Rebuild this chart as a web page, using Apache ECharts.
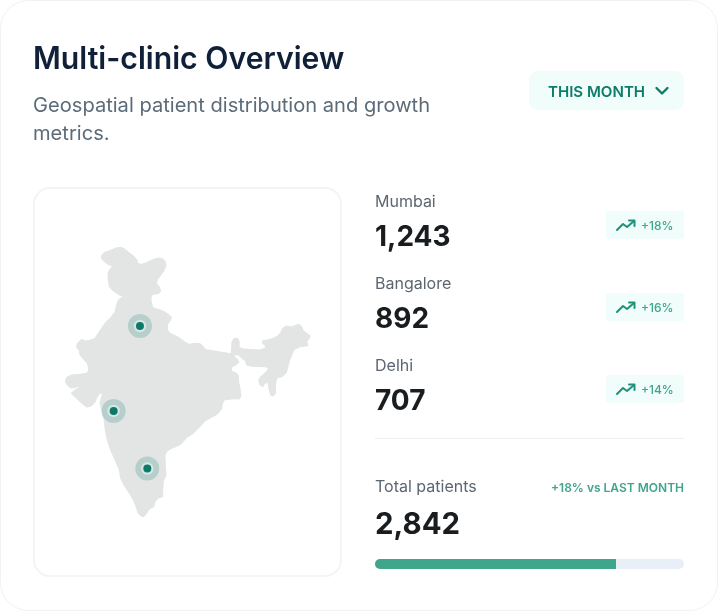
<!DOCTYPE html>
<html><head><meta charset="utf-8">
<style>html,body{margin:0;padding:0;background:#fff}#c{width:718px;height:611px}</style>
<script src="https://cdn.jsdelivr.net/npm/echarts@6/dist/echarts.min.js"></script>
</head><body><div id="c"></div>
<script>
const cityNames = ['Mumbai','Bangalore','Delhi'];
const cityPatients = [1243,892,707];
const cityGrowth = ['+18%','+16%','+14%'];
const cityMapPos = [[251,678],[352,851],[330,423]];
const totalPatients = 2842;
const totalLabel = '+18% vs LAST MONTH';
const progressPercent = [78];
const indiaOutline = [[214,212],[222,203],[240,197],[258,189],[275,187],[285,193],[297,203],[312,214],[320,224],[325,236],[335,238],[350,233],[368,224],[385,219],[398,221],[406,230],[408,242],[403,255],[393,270],[382,284],[380,296],[388,306],[392,318],[386,326],[372,327],[364,332],[363,345],[368,367],[380,372],[394,376],[406,382],[418,390],[425,398],[420,408],[412,420],[413,435],[420,445],[436,452],[452,461],[465,472],[478,478],[495,475],[510,476],[520,485],[527,494],[545,497],[570,501],[590,504],[604,507],[605,490],[606,472],[610,463],[618,459],[626,463],[628,475],[627,487],[640,492],[665,494],[690,495],[705,490],[708,483],[698,476],[697,468],[712,465],[728,461],[742,454],[752,443],[760,428],[770,423],[785,426],[797,421],[808,418],[815,425],[820,437],[830,445],[841,453],[836,463],[830,470],[834,482],[822,484],[808,486],[793,494],[785,510],[778,528],[773,550],[768,565],[755,576],[742,578],[738,590],[736,610],[737,625],[730,633],[722,630],[717,612],[714,592],[705,595],[698,605],[690,600],[686,585],[692,575],[705,565],[715,552],[712,546],[690,545],[665,544],[650,540],[647,528],[636,520],[625,510],[614,509],[612,515],[622,522],[627,532],[618,540],[605,546],[605,560],[618,563],[625,572],[626,590],[630,610],[633,635],[628,642],[605,642],[583,645],[578,655],[575,672],[562,688],[545,697],[525,708],[510,725],[490,745],[470,758],[458,772],[450,780],[425,790],[410,800],[405,812],[406,840],[408,870],[400,890],[398,915],[398,935],[385,940],[375,950],[372,965],[358,972],[350,985],[342,995],[332,993],[325,985],[318,965],[310,945],[298,925],[282,900],[272,880],[268,855],[255,825],[240,790],[232,765],[226,735],[222,700],[216,680],[210,655],[215,635],[218,625],[210,625],[202,635],[195,652],[183,664],[170,666],[155,655],[142,642],[130,632],[124,625],[132,617],[150,607],[155,603],[140,606],[125,610],[113,602],[106,590],[110,577],[125,570],[150,568],[170,565],[177,555],[172,535],[160,522],[150,510],[148,497],[140,488],[142,475],[155,463],[165,468],[180,466],[195,460],[208,440],[225,415],[243,397],[255,380],[260,360],[265,345],[280,334],[268,330],[250,318],[238,305],[235,285],[234,265],[240,252],[250,245],[238,240],[225,232],[216,222]];

const FONT = 'Inter, sans-serif';
const txt = (x,y,text,size,weight,fill,align,sx) => ({type:'text',silent:true,x,y,scaleX:sx||1,style:{text,font:`${weight} ${size}px ${FONT}`,fill,align:align||'left',verticalAlign:'middle'}});
const box = (x,y,w,h,r,fill,stroke,lw) => ({type:'rect',silent:true,shape:{x,y,width:w,height:h,r},style:{fill,stroke:stroke||null,lineWidth:lw||0}});
const line = (points,stroke,lw) => ({type:'polyline',silent:true,shape:{points},style:{stroke,lineWidth:lw,fill:null,lineCap:'round',lineJoin:'round'}});

const graphics = [
  box(0.5,0.5,717,610,28,'#fff','#f0f2f3',1),
  txt(33,59.5,'Multi-clinic Overview',31,600,'#0f2038','left',0.974),
  txt(33,106,'Geospatial patient distribution and growth',20,400,'#5c6b79','left',1.005),
  txt(33,134,'metrics.',20,400,'#5c6b79','left',1.005),
  box(529,71,155,39,9,'#f0fdfa'),
  txt(548,92,'THIS MONTH',15,600,'#0d7c69','left',1.005),
  line([[656.5,88],[662,93.5],[667.5,88]],'#0d7c69',2.4),
  box(34,188,307,388,16,'#fff','#f3f5f5',2),
  box(375,438,309,1,0,'#edf0f2'),
  txt(375,487.5,'Total patients',16,400,'#5c6670'),
  txt(684,488,totalLabel,12,600,'#3fa58b','right'),
  txt(375,525,totalPatients.toLocaleString('en-US'),30,700,'#1a1d20','left',0.98)
];
cityNames.forEach((n,i)=>{
  const d = 82*i;
  graphics.push(
    txt(375,202.5+d,n,16,400,'#5c6670'),
    txt(375,237+d,cityPatients[i].toLocaleString('en-US'),29,700,'#1a1d20','left',0.965),
    box(606,211+d,78,28,3,'#f0fdfa'),
    line([[617,230+d],[623,224+d],[627,227+d],[634,221+d]],'#1f917b',2),
    line([[629,220.5+d],[634.5,220.5+d],[634.5,226+d]],'#1f917b',2),
    txt(641,226+d,cityGrowth[i],12,500,'#3fa58b')
  );
});

const chart = echarts.init(document.getElementById('c'),null,{renderer:'canvas'});
const flip = ([x,y]) => [x,1000-y];
echarts.registerMap('india',{type:'FeatureCollection',features:[{type:'Feature',properties:{name:'India'},geometry:{type:'Polygon',coordinates:[indiaOutline.map(flip)]}}]});
const pts = cityNames.map((n,i)=>({name:n,value:[...flip(cityMapPos[i]),cityPatients[i]]}));
const ring = (size,color) => ({type:'scatter',coordinateSystem:'geo',geoIndex:0,symbol:'circle',symbolSize:size,silent:true,itemStyle:{color,opacity:1},data:pts,z:5});
chart.setOption({
  animation:false,
  backgroundColor:'#fff',
  graphic:{elements:graphics.map(g=>({...g,z:-1}))},
  geo:{map:'india',roam:false,silent:true,aspectScale:1,left:65.3,top:247.3,width:245,height:269.3,
    label:{show:false},
    itemStyle:{areaColor:'#e3e5e5',borderColor:'#e3e5e5',borderWidth:1,borderJoin:'round'}},
  grid:{left:375,top:559,width:309,height:10,containLabel:false},
  xAxis:{type:'value',min:0,max:100,show:false},
  yAxis:{type:'category',data:['Total patients'],show:false},
  series:[
    ring(24,'#b6cfcc'),ring(12.5,'#d9e6e4'),ring(8,'#0b7a69'),
    {type:'bar',data:progressPercent,barWidth:10,silent:true,showBackground:true,
     backgroundStyle:{color:'#e8eff6',borderRadius:5},
     itemStyle:{color:'#3fa58b',borderRadius:[5,0,0,5]}}
  ]
});
</script></body></html>
